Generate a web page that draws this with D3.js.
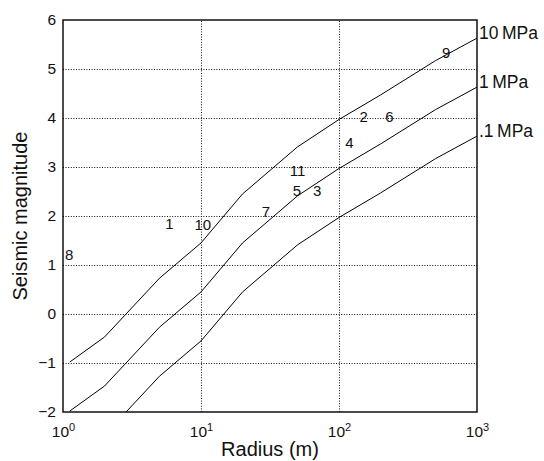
<!DOCTYPE html>
<html>
<head>
<meta charset="utf-8">
<script src="https://cdn.jsdelivr.net/npm/d3@7"></script>
<style>
  body { margin: 0; background: #fff; }
  svg text { font-family: "Liberation Sans", Arial, Helvetica, sans-serif; fill: #111; }
  .grid line { stroke: #111; stroke-width: 1; stroke-dasharray: 1,1.6; }
  .curve { fill: none; stroke: #000; stroke-width: 1; }
</style>
</head>
<body>
<div id="chart"></div>
<script>
// radius (m) sampled along the curves
const radius = [1.12, 2, 5, 10, 20, 50, 100, 200, 500, 1000];
// seismic magnitude for each stress drop
const mag10MPa = [-0.98, -0.47, 0.73, 1.45, 2.45, 3.41, 3.97, 4.47, 5.17, 5.63];
const mag1MPa  = [-1.98, -1.47, -0.27, 0.45, 1.45, 2.41, 2.97, 3.47, 4.17, 4.63];
const mag01MPa = [-2.98, -2.47, -1.27, -0.55, 0.45, 1.41, 1.97, 2.47, 3.17, 3.63];
const seriesNames = ["10\u2009MPa", "1\u2009MPa", ".1\u2009MPa"];

// numbered events
const eventIds  = ["8", "1", "10", "7", "11", "5", "3", "4", "2", "6", "9"];
const eventR    = [1.11, 5.9, 10.3, 29.6, 50, 49.6, 69.6, 119, 151, 232, 598];
const eventMag  = [1.22, 1.84, 1.82, 2.10, 2.92, 2.52, 2.52, 3.50, 4.03, 4.03, 5.33];

const yTicks = [-2, -1, 0, 1, 2, 3, 4, 5, 6];
const xTicks = [1, 10, 100, 1000];

const width = 544, height = 461;
const margin = {left: 63, right: 67, top: 20, bottom: 49};

const svg = d3.select("#chart").append("svg")
  .attr("width", width)
  .attr("height", height);

const x = d3.scaleLog()
  .domain([1, 1000])
  .range([margin.left, width - margin.right]);

const y = d3.scaleLinear()
  .domain([-2, 6])
  .range([height - margin.bottom, margin.top]);

svg.append("clipPath").attr("id", "plot-clip")
  .append("rect")
  .attr("x", x(1)).attr("y", y(6))
  .attr("width", x(1000) - x(1))
  .attr("height", y(-2) - y(6));

// gridlines
const grid = svg.append("g").attr("class", "grid");
grid.selectAll(".hg")
  .data(yTicks.filter(d => d > -2 && d < 6))
  .enter().append("line")
  .attr("x1", x(1)).attr("x2", x(1000))
  .attr("y1", d => y(d) + 0.5).attr("y2", d => y(d) + 0.5);
grid.selectAll(".vg")
  .data([10, 100])
  .enter().append("line")
  .attr("x1", d => Math.round(x(d)) + 0.5).attr("x2", d => Math.round(x(d)) + 0.5)
  .attr("y1", y(-2)).attr("y2", y(6));

// curves
const series = [mag10MPa, mag1MPa, mag01MPa];
const line = d3.line()
  .x((d, i) => x(radius[i]))
  .y(d => y(d));

svg.append("g")
  .attr("clip-path", "url(#plot-clip)")
  .selectAll("path")
  .data(series)
  .enter().append("path")
  .attr("class", "curve")
  .attr("d", d => line(d));

// curve labels on the right
svg.selectAll(".slabel")
  .data(series)
  .enter().append("text")
  .attr("class", "slabel")
  .attr("x", x(1000) + 2)
  .attr("y", d => y(d[d.length - 1]) + 1)
  .attr("font-size", 17.5)
  .text((d, i) => seriesNames[i]);

// event numbers
svg.selectAll(".ev")
  .data(eventIds)
  .enter().append("text")
  .attr("class", "ev")
  .attr("x", (d, i) => x(eventR[i]))
  .attr("y", (d, i) => y(eventMag[i]))
  .attr("dy", "0.36em")
  .attr("text-anchor", "middle")
  .attr("font-size", 15)
  .text(d => d);

// frame
svg.append("rect")
  .attr("x", x(1)).attr("y", y(6))
  .attr("width", x(1000) - x(1))
  .attr("height", y(-2) - y(6))
  .attr("fill", "none")
  .attr("stroke", "#000")
  .attr("stroke-width", 1.4);

// y axis
const yAxis = d3.axisLeft(y).tickValues(yTicks).tickSize(0).tickPadding(7);
svg.append("g")
  .attr("transform", `translate(${x(1)},0)`)
  .call(yAxis)
  .call(g => g.select(".domain").remove())
  .selectAll("text")
  .attr("font-size", 15.5)
  .style("font-family", "'Liberation Sans', Arial, sans-serif")
  .attr("fill", "#111");

// x axis with powers of ten
const xAxis = d3.axisBottom(x).tickValues(xTicks).tickSize(0).tickFormat("");
const xg = svg.append("g")
  .attr("transform", `translate(0,${y(-2)})`)
  .call(xAxis)
  .call(g => g.select(".domain").remove());
xg.selectAll(".tick").append("text")
  .attr("y", 25)
  .attr("text-anchor", "middle")
  .attr("font-size", 15.5)
  .attr("fill", "#111")
  .each(function(d) {
    const t = d3.select(this);
    t.append("tspan").text("10");
    t.append("tspan").attr("dy", -6).attr("font-size", 11).text(Math.round(Math.log10(d)));
  });

// axis titles
svg.append("text")
  .attr("x", (x(1) + x(1000)) / 2)
  .attr("y", 456)
  .attr("text-anchor", "middle")
  .attr("font-size", 20)
  .text("Radius (m)");

svg.append("text")
  .attr("transform", `translate(27,${(y(-2) + y(6)) / 2}) rotate(-90)`)
  .attr("text-anchor", "middle")
  .attr("font-size", 20)
  .text("Seismic magnitude");
</script>
</body>
</html>
